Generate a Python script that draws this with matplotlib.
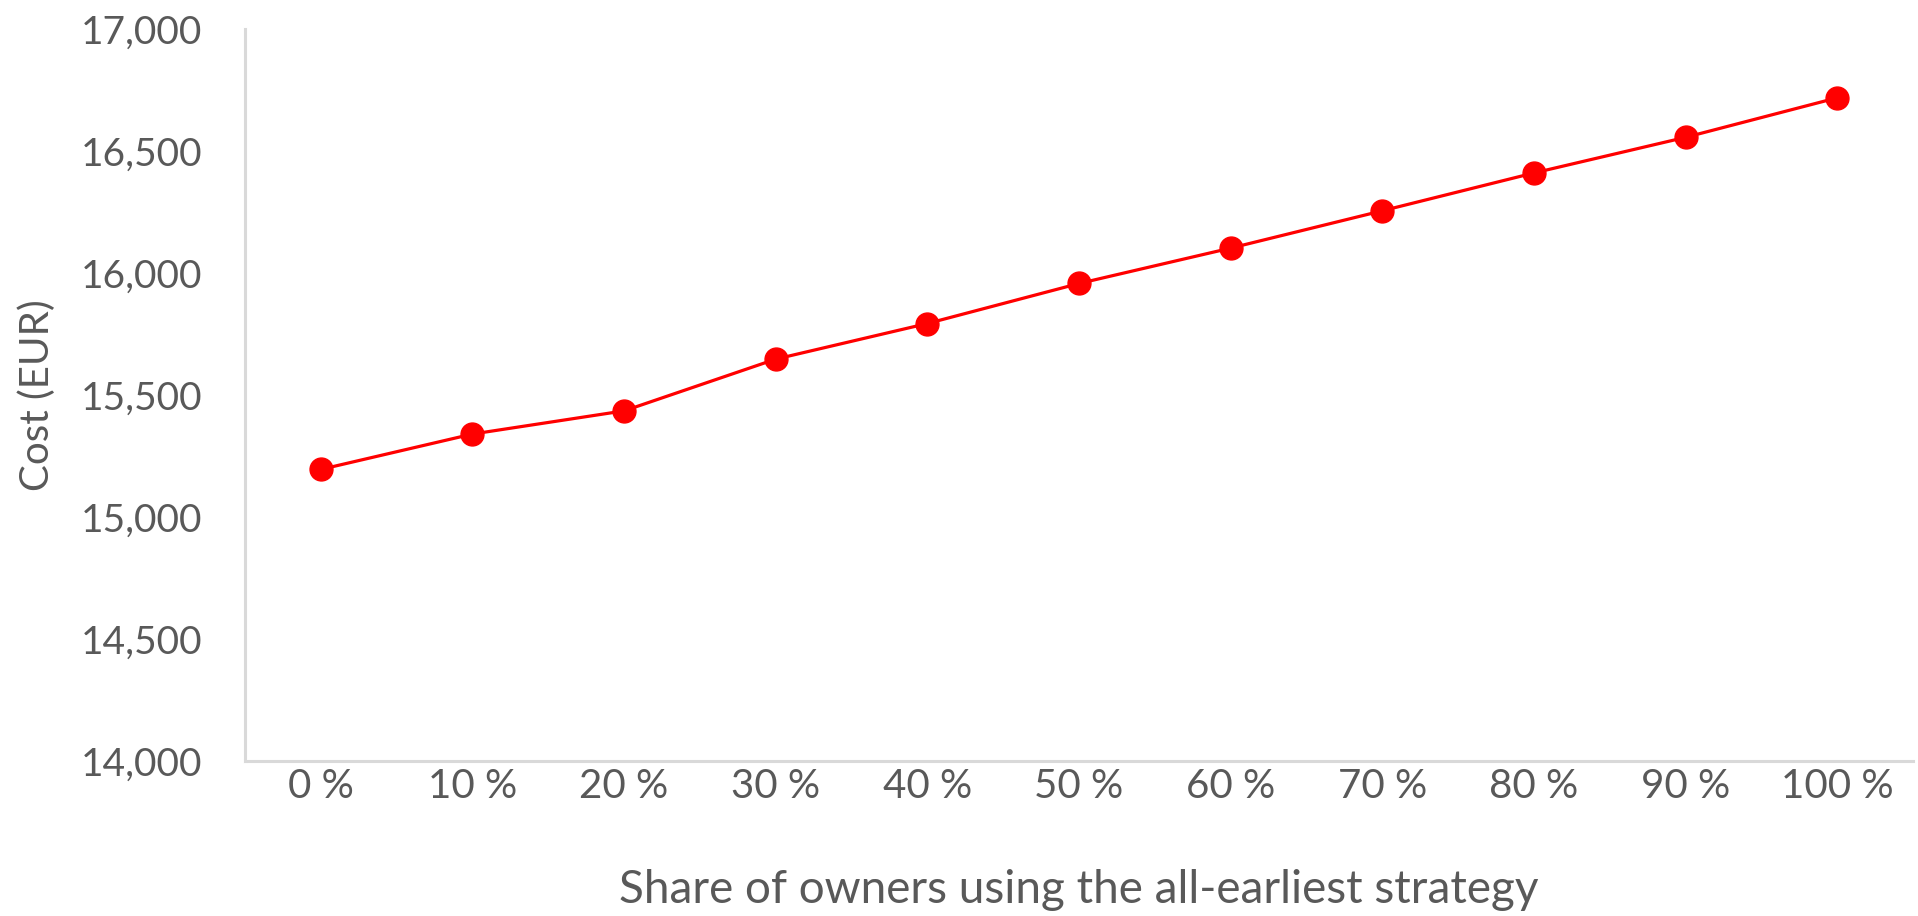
import matplotlib
matplotlib.use("Agg")
import matplotlib.pyplot as plt
from matplotlib.ticker import FuncFormatter

categories = ["0 %", "10 %", "20 %", "30 %", "40 %", "50 %", "60 %", "70 %", "80 %", "90 %", "100 %"]
cost = [15195, 15340, 15435, 15647, 15793, 15957, 16102, 16255, 16410, 16556, 16718]
y_ticks = [14000, 14500, 15000, 15500, 16000, 16500, 17000]

plt.rcParams['font.family'] = ['Lato', 'DejaVu Sans']
TXT = '#595959'
AX = '#D9D9D9'

fig = plt.figure(figsize=(19.18, 9.16), dpi=100)
ax = fig.add_axes([245/1918, 1-761/916, (1913-245)/1918, (761-29)/916])

x = list(range(len(categories)))
ax.plot(x, cost, color='#FF0000', linewidth=2.3, marker='o', markersize=16.5,
        markerfacecolor='#FF0000', markeredgecolor='#FF0000', zorder=3)

ax.set_xlim(-0.5, len(categories) - 0.5)
ax.set_ylim(y_ticks[0], y_ticks[-1])
ax.set_xticks(x)
ax.set_xticklabels(categories)
ax.set_yticks(y_ticks)
ax.yaxis.set_major_formatter(FuncFormatter(lambda v, p: f"{int(v):,}"))

ax.tick_params(axis='y', length=0, labelsize=28, labelcolor=TXT, pad=31)
ax.tick_params(axis='x', length=0, labelsize=29, labelcolor=TXT, pad=5)

for s in ['top', 'right']:
    ax.spines[s].set_visible(False)
for s in ['left', 'bottom']:
    ax.spines[s].set_color(AX)
    ax.spines[s].set_linewidth(2.2)

ax.set_xlabel("Share of owners using the all-earliest strategy", fontsize=33, color=TXT)
ax.xaxis.set_label_coords(0.5, -(869 - 761) / (761 - 29))
ax.set_ylabel("Cost (EUR)", fontsize=29, color=TXT)
ax.yaxis.set_label_coords(-(245 - 56) / (1913 - 245), 0.5)

fig.savefig("out.png", dpi=100, facecolor='white')
